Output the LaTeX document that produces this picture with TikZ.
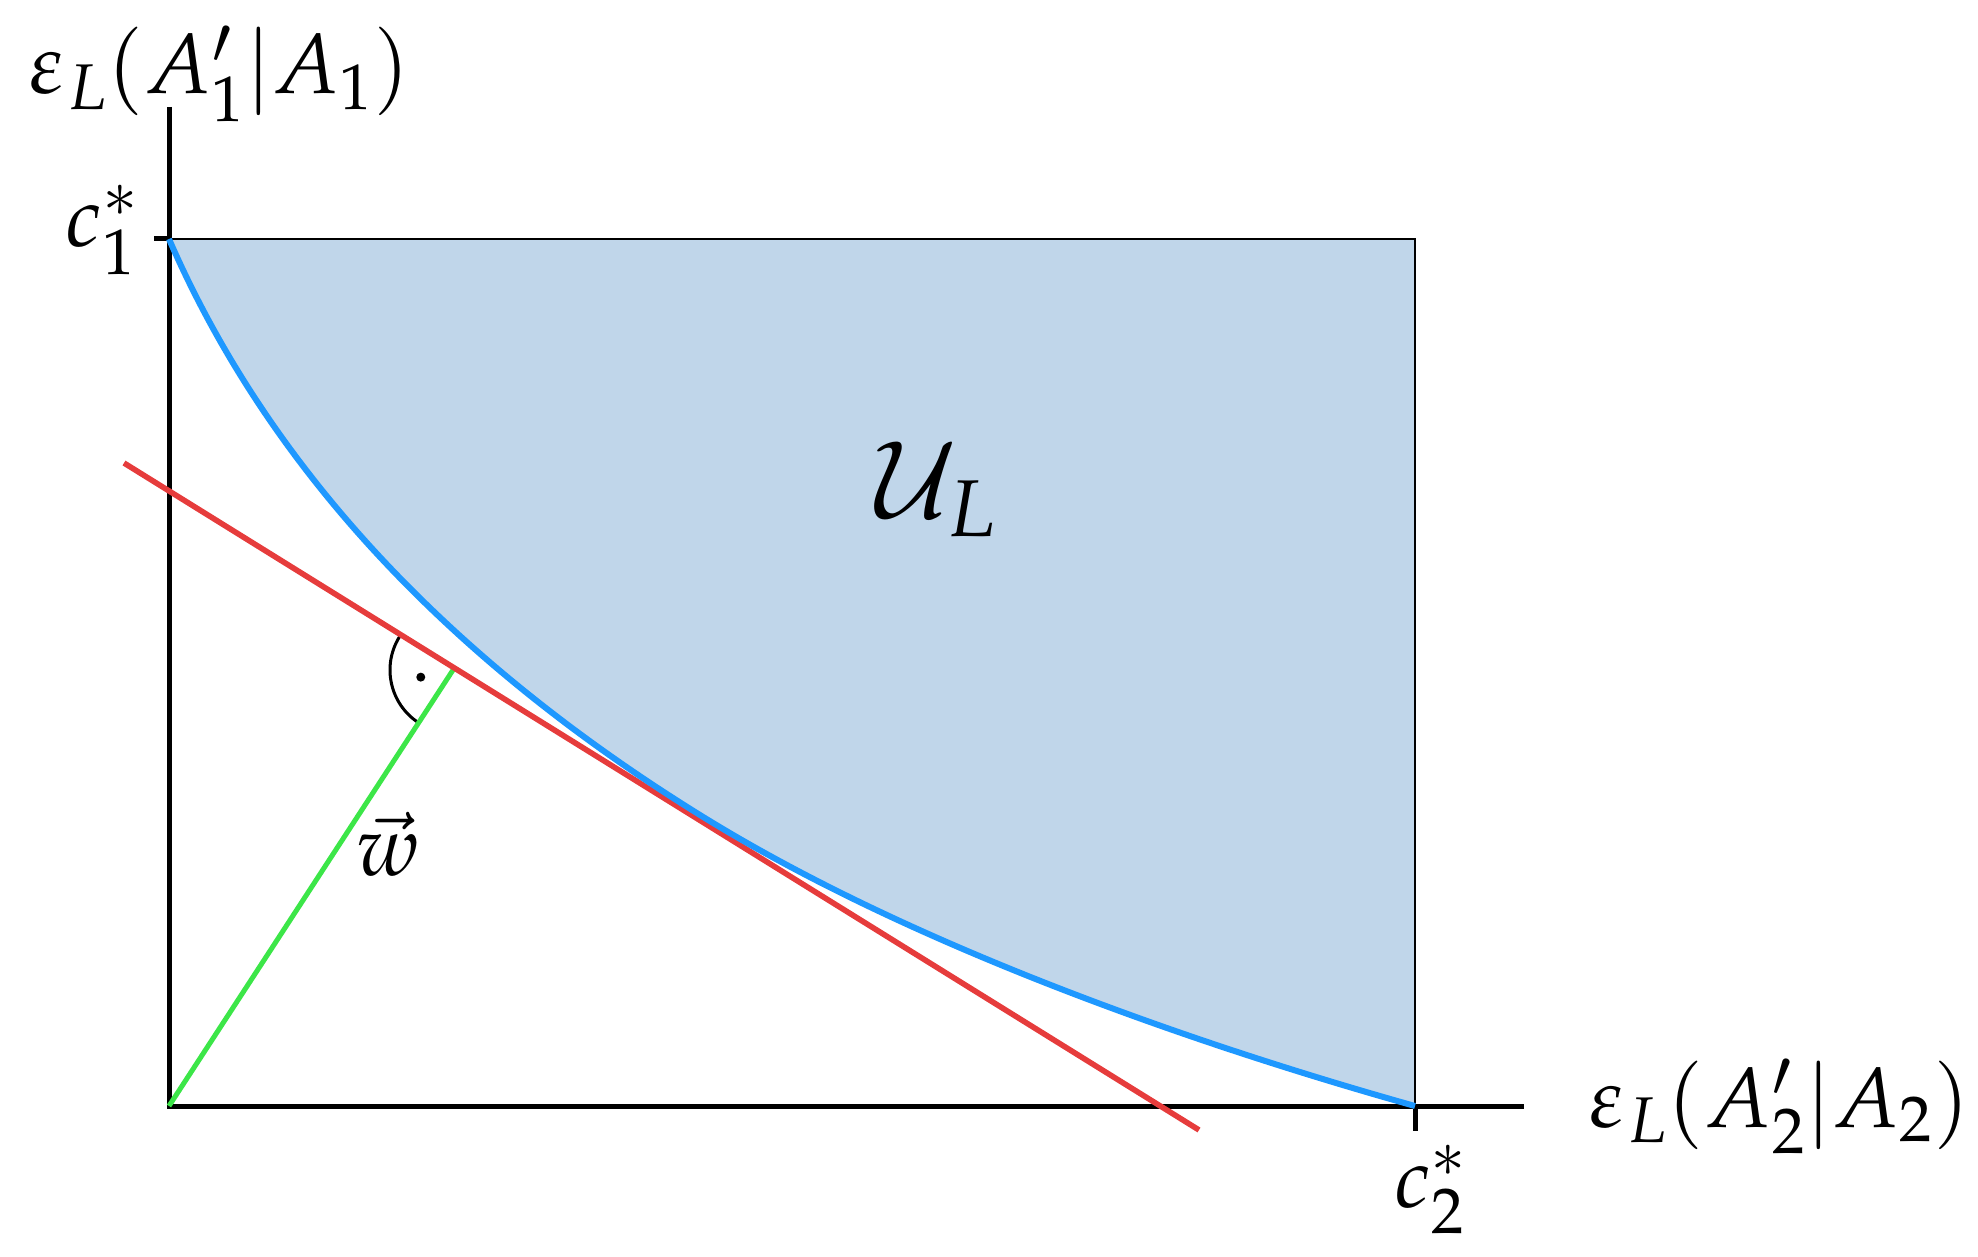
\documentclass[tikz,border=0pt]{standalone}
\usepackage{mathpazo}
\usetikzlibrary{calc}
\definecolor{regionfill}{RGB}{192,214,234}
\definecolor{curveblue}{RGB}{30,152,255}
\definecolor{tanred}{RGB}{230,60,60}
\definecolor{vecgreen}{RGB}{60,230,72}
\tikzset{
  axisline/.style={line width=2.5pt, black},
  edgeline/.style={line width=1.3pt, black},
  bluecurve/.style={line width=3pt, curveblue},
  redline/.style={line width=2.8pt, tanred},
  greenline/.style={line width=2.5pt, vecgreen},
  anglemark/.style={line width=1.5pt, black},
  lbl/.style={inner sep=0pt, font=\fontsize{42.5}{50}\selectfont},
  biglbl/.style={inner sep=0pt, font=\fontsize{53}{60}\selectfont},
}
\begin{document}
\begin{tikzpicture}[x=0.5pt,y=-0.5pt]
\useasboundingbox (0,0) rectangle (1978,1257);
\coordinate (O) at (169,1106);
\coordinate (Ytop) at (169,107);
\coordinate (Xend) at (1524,1106);
\coordinate (C1) at (169,239);
\coordinate (C1t) at (154,239);
\coordinate (C2) at (1415,1106);
\coordinate (C2t) at (1415,1131);
\coordinate (TR) at (1415,239);
\coordinate (R1) at (124,463);
\coordinate (R2) at (1199,1130);
\coordinate (P) at (453,670);
\coordinate (T) at (700,815);
% region
\fill[regionfill] (C1) .. controls (276.7,486.6) and (470.6,672.7) .. (T)
   .. controls (903.9,941.5) and (1183.9,1041.2) .. (C2) -- (TR) -- cycle;
\draw[edgeline] (C1) -- (TR) -- (C2);
% axes
\draw[axisline] (Ytop) -- (O) -- (Xend);
\draw[axisline] (C1t) -- (C1);
\draw[axisline] (C2) -- (C2t);
% right angle mark
\draw[anglemark] ($(P)+(123.1:63)$) arc[start angle=123.1, end angle=211.9, radius=63];
\fill ($(P)+(167.5:33)$) circle[radius=4.5];
% lines
\draw[greenline] (O) -- (P);
\draw[redline] (R1) -- (R2);
\draw[bluecurve] (C1) .. controls (276.7,486.6) and (470.6,672.7) .. (T)
   .. controls (903.9,941.5) and (1183.9,1041.2) .. (C2);
% labels
\node[lbl, anchor=base west] (ylab) at (29,94) {$\varepsilon_L(A'_1|A_1)$};
\node[lbl, anchor=base west] (xlab) at (1589,1127) {$\varepsilon_L(A'_2|A_2)$};
\node[lbl, anchor=base east] (c1lab) at (139,247) {$c_1^*$};
\node[lbl, anchor=base west] (c2lab) at (1394,1207) {$c_2^*$};
\node[biglbl, anchor=base west] (ulab) at (875,517) {$\mathcal{U}_L$};
\node[lbl] (wlab) at (388,844) {$\vec{w}$};
\end{tikzpicture}
\end{document}
